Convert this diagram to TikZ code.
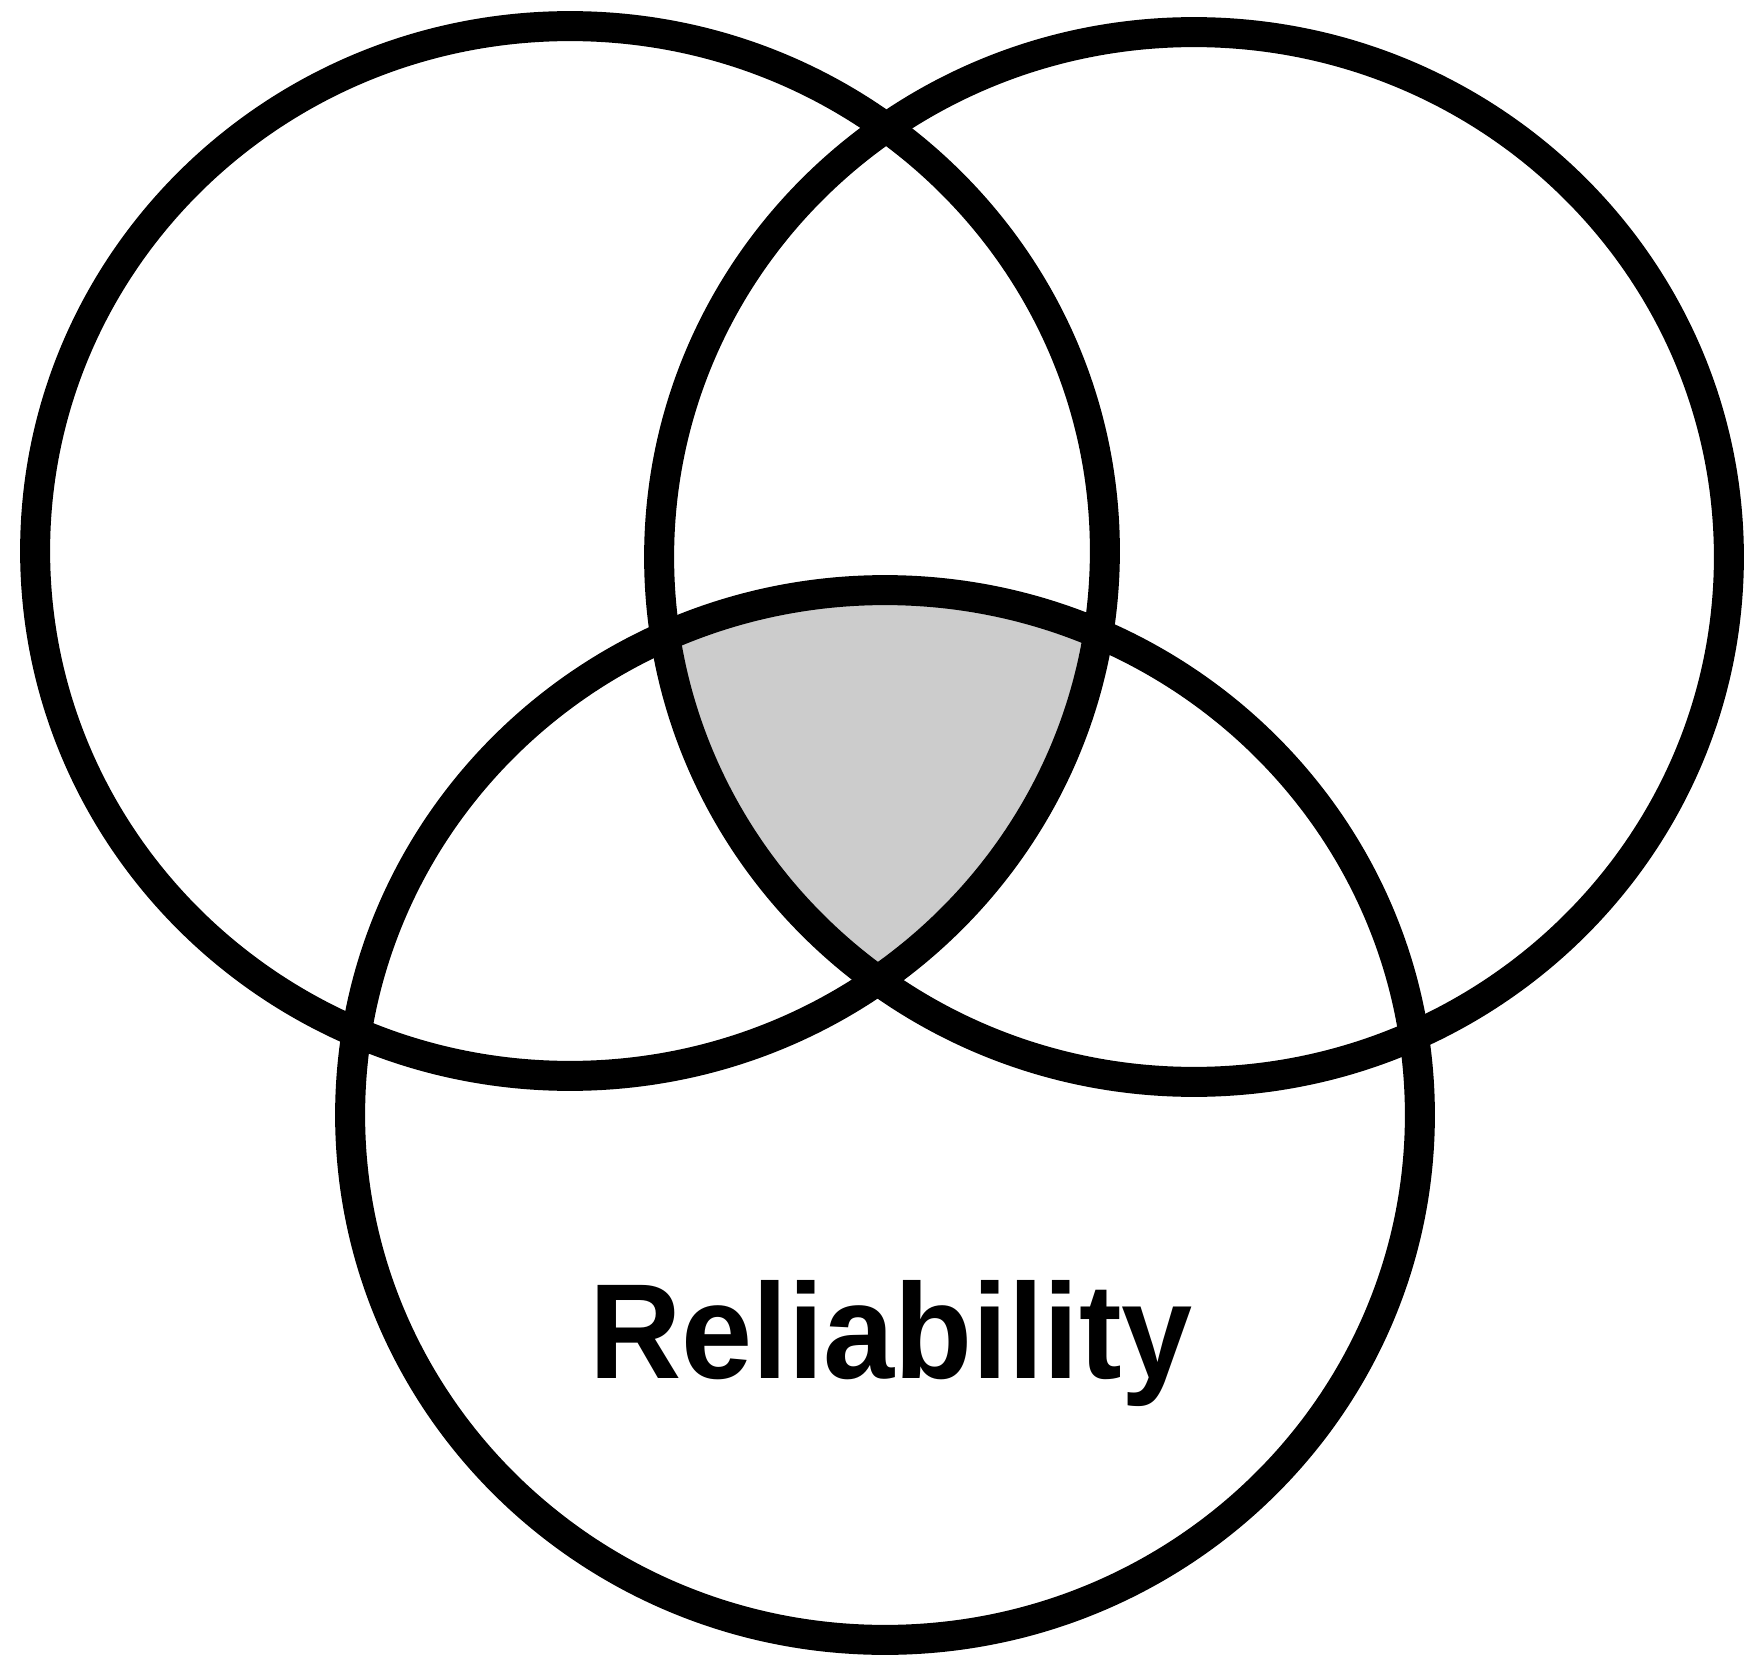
\documentclass[tikz,border=0pt]{standalone}
\usepackage{fontspec}
\setmainfont{Liberation Sans}
\usepackage{tikz}
\tikzstyle{ring}=[draw=black,line width=0.6cm]
\tikzstyle{core}=[fill=black!20]
\tikzstyle{lbl}=[inner sep=0pt,anchor=base,font=\fontsize{72}{86}\selectfont\bfseries]

\begin{document}
\begin{tikzpicture}[x=0.02cm,y=-0.02cm]
\useasboundingbox (0,0) rectangle (1751,1655);
\coordinate (L) at (570,551);
\coordinate (R) at (1194,557);
\coordinate (B) at (885,1115);
% shaded common part
\begin{scope}
\clip (L) ellipse [x radius=10.7cm, y radius=10.5cm];
\clip (R) ellipse [x radius=10.7cm, y radius=10.5cm];
\fill[core] (B) ellipse [x radius=10.7cm, y radius=10.5cm];
\end{scope}
\draw[ring] (L) ellipse [x radius=10.7cm, y radius=10.5cm];
\draw[ring] (R) ellipse [x radius=10.7cm, y radius=10.5cm];
\draw[ring] (B) ellipse [x radius=10.7cm, y radius=10.5cm];
\node[lbl] (rel) at (891,1378) {\scalebox{1.01}[1.07]{Reliability}};
\end{tikzpicture}
\end{document}
